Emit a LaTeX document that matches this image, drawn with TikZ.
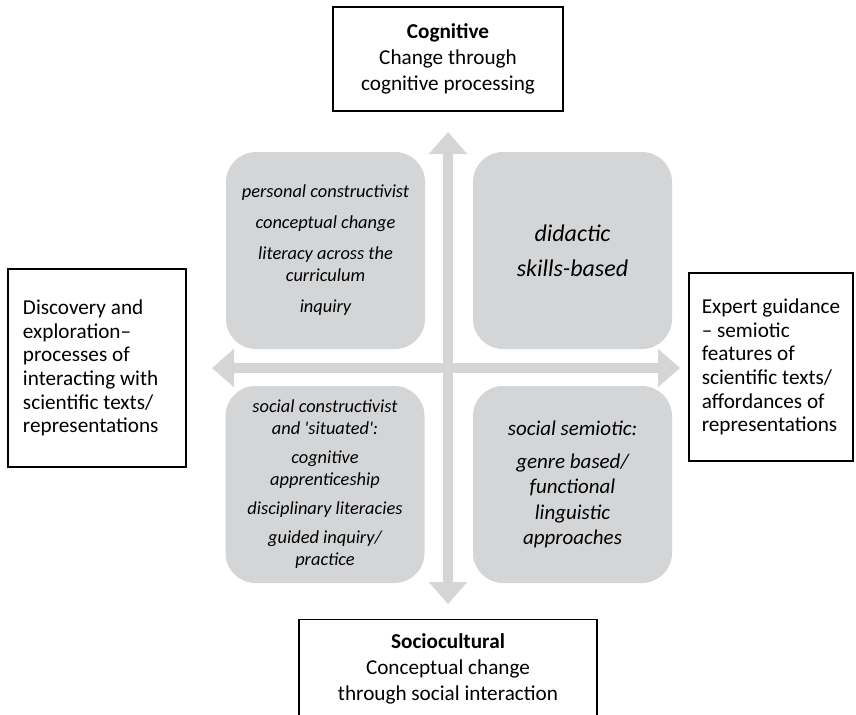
\documentclass[tikz,border=0pt]{standalone}
\usepackage{fontspec}
\setmainfont{Carlito}[Ligatures=TeXOff]
\usetikzlibrary{arrows.meta}
\definecolor{quadgrey}{RGB}{212,213,215}

\begin{document}
\begin{tikzpicture}[x=0.5pt,y=-0.5pt,
    framebox/.style={draw,line width=0.6pt,align=center,font=\fontsize{10.6}{13}\selectfont},
    sidebox/.style={draw,line width=0.6pt,align=flush left,font=\fontsize{10.6}{11.8}\selectfont},
    quad/.style={fill=quadgrey,rounded corners=15pt,minimum width=99.5pt,minimum height=98.5pt,
      align=center,font=\itshape\fontsize{9.2}{11}\selectfont},
    axis/.style={draw=quadgrey,line width=4.75pt,
      {Triangle[width=18.5pt,length=11pt]}-{Triangle[width=18.5pt,length=11pt]}}]
      \useasboundingbox (0,0) rectangle (856,714);

      % the four quadrants
      \node (persq) [quad] at (325.5,250.5) {personal constructivist\\[4.5pt]
        conceptual change\\[4.5pt] literacy across the\\curriculum\\[4.5pt] inquiry};
      \node (didq) [quad,font=\itshape\fontsize{12}{17.5}\selectfont] at (572.5,250.5)
        {didactic\\skills-based};
      \node (socq) [quad] at (325,484.5) {social constructivist\\and 'situated':\\[3.5pt]
        cognitive\\apprenticeship\\[3.5pt] disciplinary literacies\\[3.5pt] guided inquiry/\\practice};
      \node (semq) [quad,font=\itshape\fontsize{10.5}{12.75}\selectfont] at (572.5,484.5)
        {social semiotic:\\[3.5pt] genre based/\\functional\\linguistic\\approaches};

      % axes
      \coordinate (uptip) at (448,132);
      \coordinate (downtip) at (448,604);
      \coordinate (westtip) at (212,368);
      \coordinate (easttip) at (680,368);
      \draw[axis] (westtip) -- (easttip);
      \draw[axis] (uptip) -- (downtip);

      % the four poles
      \node (cogn) [framebox,minimum width=115pt,minimum height=52pt] at (448,59)
        {\textbf{Cognitive}\\Change through\\cognitive processing};
      \node (socio) [framebox,anchor=north,minimum width=149pt,inner ysep=7pt,text depth=40pt] at (448,619)
        {\textbf{Sociocultural}\\Conceptual change\\through social interaction};
      \node (disc) [sidebox,text width=74pt,inner xsep=7.5pt,minimum height=99pt] at (97,368)
        {Discovery and\\exploration–\\processes of\\interacting with\\scientific texts/\\representations};
      \node (expert) [sidebox,minimum width=82pt,minimum height=94pt] at (771,367)
        {Expert guidance\\– semiotic\\features of\\scientific texts/\\affordances of\\representations};
    \end{tikzpicture}
\end{document}
